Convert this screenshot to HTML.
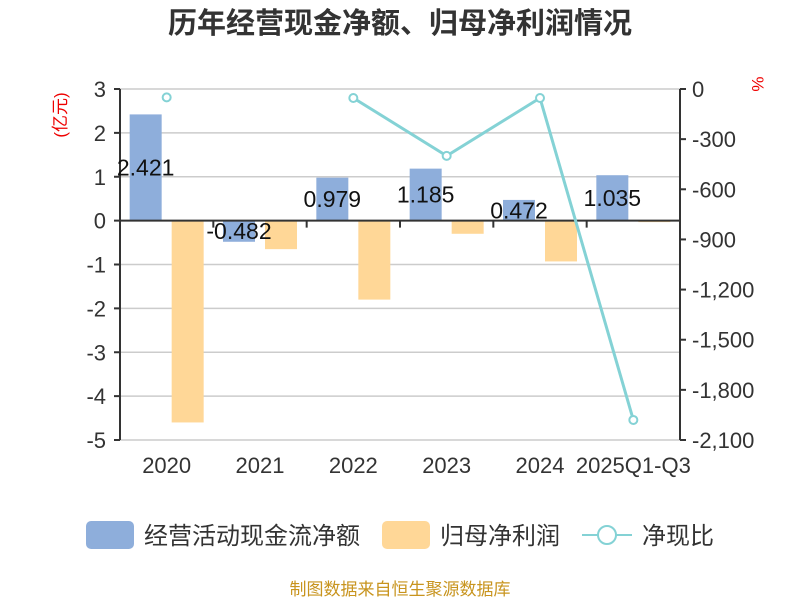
<!DOCTYPE html>
<html><head><meta charset="utf-8"><style>
body{margin:0;background:#fff;}
svg{display:block;font-family:"Liberation Sans","Noto Sans CJK SC",sans-serif;}
</style></head><body>
<svg id="c" width="800" height="600">
<text x="400" y="33" text-anchor="middle" font-size="29" font-weight="bold" fill="#333">历年经营现金净额、归母净利润情况</text>
<text transform="translate(66,115) rotate(-90)" text-anchor="middle" font-size="17" fill="#e00">(亿元)</text>
<text transform="translate(752,84) rotate(90)" text-anchor="middle" font-size="17" fill="#e00">%</text>
<g id="grid"></g><g id="bars"></g><g id="axes"></g><g id="line"></g>
<g>
<g><rect x="86" y="521" width="48" height="28" rx="5" fill="#8eaedb"/><text x="144" y="544" font-size="24" fill="#333">经营活动现金流净额</text></g>
<g><rect x="382" y="521" width="48" height="28" rx="5" fill="#ffd797"/><text x="440" y="544" font-size="24" fill="#333">归母净利润</text></g>
<g><line x1="582" y1="535" x2="632" y2="535" stroke="#84d2d5" stroke-width="2"/><circle cx="607" cy="535" r="9" fill="#fff" stroke="#84d2d5" stroke-width="2"/><text x="642" y="544" font-size="24" fill="#333">净现比</text></g>
</g>
<text x="400" y="595" text-anchor="middle" font-size="17" fill="#c8941e">制图数据来自恒生聚源数据库</text>
</svg>
<script>
const categories=["2020","2021","2022","2023","2024","2025Q1-Q3"];
const cashFlow=[2.421,-0.482,0.979,1.185,0.472,1.035];
const netProfit=[-4.6,-0.65,-1.8,-0.3,-0.93,-0.03];
const ratio=[-50,null,-54,-400,-54,-1980];
const leftTicks=[3,2,1,0,-1,-2,-3,-4,-5];
const rightTicks=[0,-300,-600,-900,-1200,-1500,-1800,-2100];
const NS="http://www.w3.org/2000/svg";
const L=120,R=680,T=89,B=440;
const bw=(R-L)/categories.length;
const yL=v=>T+(3-v)/8*(B-T);
const yR=v=>T+(0-v)/2100*(B-T);
const xC=i=>L+bw*(i+0.5);
function mk(tag,attrs,parent,text){const e=document.createElementNS(NS,tag);for(const k in attrs)e.setAttribute(k,attrs[k]);if(text!==undefined)e.textContent=text;document.getElementById(parent).appendChild(e);return e;}
leftTicks.forEach(v=>{
 const g=mk('line',{x1:L,x2:R,y1:yL(v),y2:yL(v),stroke:'#ccc','stroke-width':1.5},'grid');
 
 
 const t=mk('text',{x:L-14,y:yL(v)+8,'text-anchor':'end','font-size':22,fill:'#333'},'axes',String(v));
 
 
 mk('line',{x1:L-6,x2:L,y1:yL(v),y2:yL(v),stroke:'#333','stroke-width':2},'axes');
});
rightTicks.forEach(v=>{
 const t=mk('text',{x:R+12,y:yR(v)+8,'font-size':22,fill:'#333'},'axes',v.toLocaleString('en-US'));
 
 
 mk('line',{x1:R,x2:R+6,y1:yR(v),y2:yR(v),stroke:'#333','stroke-width':2},'axes');
});
categories.forEach((c,i)=>{
 const y0=yL(0);
 const bx=xC(i)-37;
 const b1=mk('rect',{x:bx,y:Math.min(yL(cashFlow[i]),y0),width:32,height:Math.abs(yL(cashFlow[i])-y0),fill:'#8eaedb'},'bars');
 
 
 const b2=mk('rect',{x:xC(i)+5,y:Math.min(yL(netProfit[i]),y0),width:32,height:Math.max(1.5,Math.abs(yL(netProfit[i])-y0)),fill:'#ffd797'},'bars');
 
 
 const ly=(yL(cashFlow[i])+y0)/2+8;
 const lb=mk('text',{x:xC(i)-21,y:ly,'text-anchor':'middle','font-size':23,fill:'#111'},'line',cashFlow[i].toFixed(3));
 
 
 const xl=mk('text',{x:xC(i),y:473,'text-anchor':'middle','font-size':22,fill:'#333'},'axes',c);
 
 
 if(i>0)mk('line',{x1:L+bw*i,x2:L+bw*i,y1:y0,y2:y0+7,stroke:'#333','stroke-width':2},'axes');
});
mk('line',{x1:L,x2:R,y1:yL(0),y2:yL(0),stroke:'#333','stroke-width':2},'axes');
mk('line',{x1:L,x2:L,y1:T,y2:B,stroke:'#333','stroke-width':2},'axes');
mk('line',{x1:R,x2:R,y1:T,y2:B,stroke:'#333','stroke-width':2},'axes');
let d='',pen=false;
ratio.forEach((v,i)=>{if(v===null){pen=false;return;}d+=(pen?'L':'M')+xC(i)+' '+yR(v)+' ';pen=true;});
const p=mk('path',{d:d,fill:'none',stroke:'#84d2d5','stroke-width':3},'line');


ratio.forEach((v,i)=>{if(v===null)return;
 const c=mk('circle',{cx:xC(i),cy:yR(v),r:4,fill:'#fff',stroke:'#84d2d5','stroke-width':2},'line');
 
 
});
</script>
</body></html>
